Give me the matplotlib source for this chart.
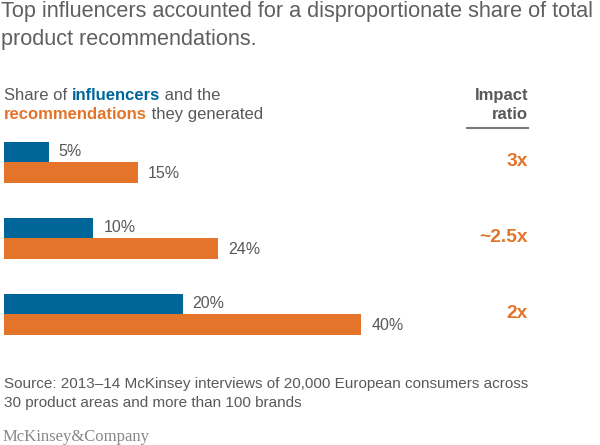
import matplotlib
matplotlib.use("Agg")
import matplotlib.pyplot as plt
from matplotlib.lines import Line2D

plt.rcParams['font.family'] = ['Liberation Sans', 'DejaVu Sans']

# data
influencers = [5, 10, 20]
recommendations = [15, 24, 40]
impact = ['3x', '~2.5x', '2x']

blue = '#00669a'
orange = '#e3742a'
gray = '#595959'

W, H = 600, 445
fig = plt.figure(figsize=(6, 4.45), dpi=100)

def fx(x):
    return x / W

def fy(y):
    return 1 - y / H

# bars axis: left at 4px, 8.93 px per percent, groups 76 px apart
ax = fig.add_axes([fx(4), fy(345), fx(596), (345 - 130) / H])
ax.set_xlim(0, 596 / 8.93)
ax.set_ylim(215 / 76 - 32 / 76, -32 / 76)
ax.axis('off')

h = 20.5 / 76
pos = list(range(len(influencers)))
ax.barh([p - h / 2 for p in pos], influencers, height=h, color=blue)
ax.barh([p + h / 2 for p in pos], recommendations, height=h, color=orange)
pad = 10 / 8.93
for p, a, b in zip(pos, influencers, recommendations):
    ax.text(a + pad, p - h / 2, f'{a}%', va='center', ha='left', fontsize=11.5, color=gray)
    ax.text(b + pad, p + h / 2 + 0.01, f'{b}%', va='center', ha='left', fontsize=11.5, color=gray)

# impact ratio column, right edge at 528 px
trans = ax.get_yaxis_transform()
for p, s in zip(pos, impact):
    ax.text((528 - 4) / 596, p, s, transform=trans,
            ha='right', va='center', fontsize=13.8, weight='bold', color=orange)

# title
fig.text(fx(1), fy(12), 'Top influencers accounted for a disproportionate share of total',
         fontsize=15.6, color='#5f5f5f', va='center', ha='left')
fig.text(fx(1), fy(40), 'product recommendations.',
         fontsize=15.6, color='#5f5f5f', va='center', ha='left')

# header with coloured words
renderer = fig.canvas.get_renderer()

def rich_line(x, y, parts):
    for s, color, weight in parts:
        t = fig.text(fx(x), fy(y), s, color=color, weight=weight,
                     fontsize=12, va='baseline', ha='left')
        x += t.get_window_extent(renderer=renderer).width

rich_line(4, 100, [('Share of ', gray, 'normal'),
                   ('influencers', blue, 'bold'),
                   (' and the', gray, 'normal')])
rich_line(4, 119, [('recommendations', orange, 'bold'),
                   (' they generated', gray, 'normal')])

fig.text(fx(528), fy(100), 'Impact', ha='right', va='baseline',
         fontsize=12, weight='bold', color=gray)
fig.text(fx(528), fy(119), 'ratio', ha='right', va='baseline',
         fontsize=12, weight='bold', color=gray)
fig.add_artist(Line2D([fx(467), fx(528)], [fy(128), fy(128)], color='#777777', lw=1.5))

# source and logo
fig.text(fx(4), fy(388), 'Source: 2013\u201314 McKinsey interviews of 20,000 European consumers across',
         fontsize=11, color=gray, va='baseline', ha='left')
fig.text(fx(4), fy(407), '30 product areas and more than 100 brands',
         fontsize=11, color=gray, va='baseline', ha='left')
fig.text(fx(3), fy(441), 'McKinsey&Company', family='Liberation Serif',
         fontsize=12, color='#888888', va='baseline', ha='left')

fig.savefig('out.png', dpi=100, facecolor='white')
